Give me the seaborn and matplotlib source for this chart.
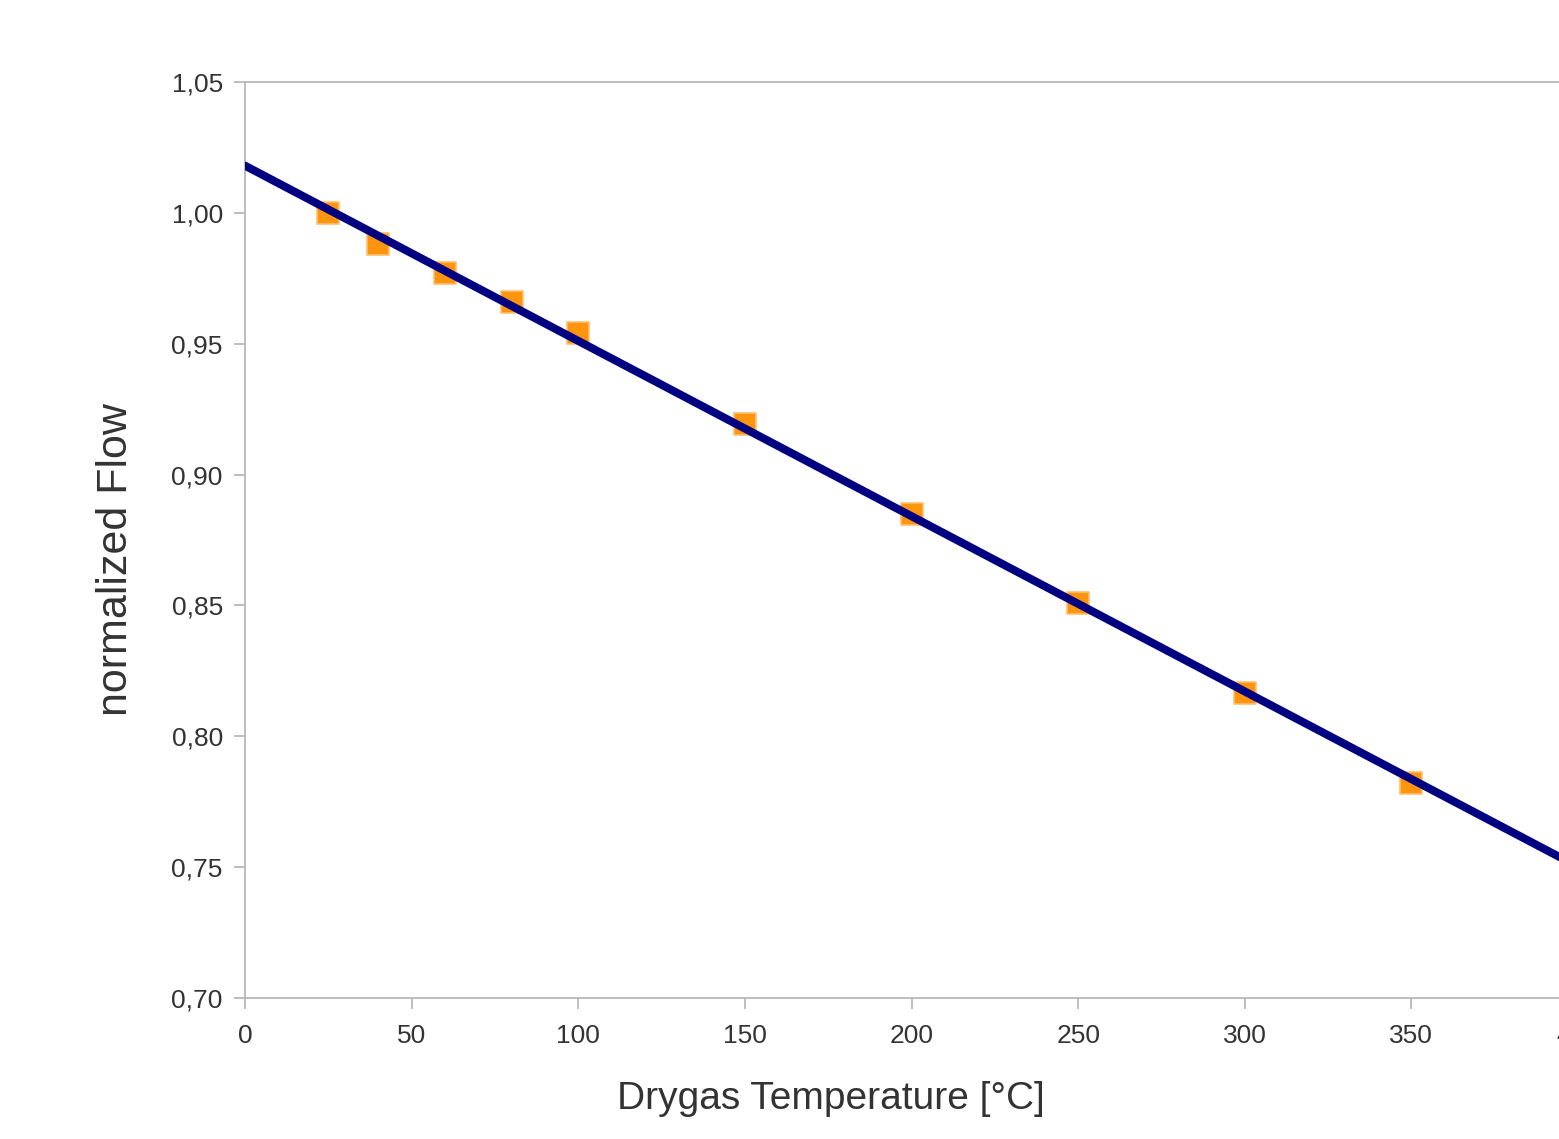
import numpy as np
import pandas as pd
import matplotlib
matplotlib.use("Agg")
import matplotlib.pyplot as plt
import seaborn as sns

# Data
temperature = [25, 40, 60, 80, 100, 150, 200, 250, 300, 350]
norm_flow = [1.000, 0.988, 0.977, 0.966, 0.954, 0.9195, 0.885, 0.851, 0.8165, 0.782]
x_ticks = [0, 50, 100, 150, 200, 250, 300, 350, 400]
y_ticks = [0.70, 0.75, 0.80, 0.85, 0.90, 0.95, 1.00, 1.05]
x_label = "Drygas Temperature [°C]"
y_label = "normalized Flow"

df = pd.DataFrame({"T": temperature, "F": norm_flow})

sns.set_theme(style="white")
plt.rcParams["font.family"] = ["Liberation Sans", "DejaVu Sans"]

fig = plt.figure(figsize=(15.59, 11.39), dpi=100)
ax = fig.add_axes([245 / 1559, 1 - 998 / 1139, (1578 - 245) / 1559, (998 - 82) / 1139])

# linear trend line (least squares through the data)
slope, intercept = np.polyfit(df["T"], df["F"], 1)
xs = np.array([0, 400])
trend = pd.DataFrame({"T": xs, "F": intercept + slope * xs})

sns.scatterplot(data=df, x="T", y="F", ax=ax, marker="s", s=240,
                color="#ff950e", edgecolor="#ffc070", linewidth=1.2, zorder=3)
sns.lineplot(data=trend, x="T", y="F", ax=ax, color="#000080", linewidth=5.8, zorder=4)

ax.set_xlim(0, 400)
ax.set_ylim(0.70, 1.05)
ax.set_xticks(x_ticks)
ax.set_yticks(y_ticks)
ax.set_xticklabels([str(v) for v in x_ticks])
ax.set_yticklabels([f"{v:.2f}".replace(".", ",") for v in y_ticks])

for side in ["left", "bottom", "top", "right"]:
    ax.spines[side].set_color("#b3b3b3")
    ax.spines[side].set_linewidth(1.2)
ax.tick_params(axis="both", which="major", direction="out", length=8, width=1.2,
               color="#b3b3b3", labelsize=19, labelcolor="#333333")
ax.tick_params(axis="x", pad=11)
ax.tick_params(axis="y", pad=8)
ax.xaxis.set_ticks_position("bottom")
ax.yaxis.set_ticks_position("left")

ax.set_xlabel(x_label, fontsize=28, color="#333333")
ax.xaxis.set_label_coords(0.4396, -0.091)
ax.set_ylabel(y_label, fontsize=31, color="#333333")
ax.yaxis.set_label_coords(-0.082, 0.479)

fig.savefig("out.png", dpi=100)
